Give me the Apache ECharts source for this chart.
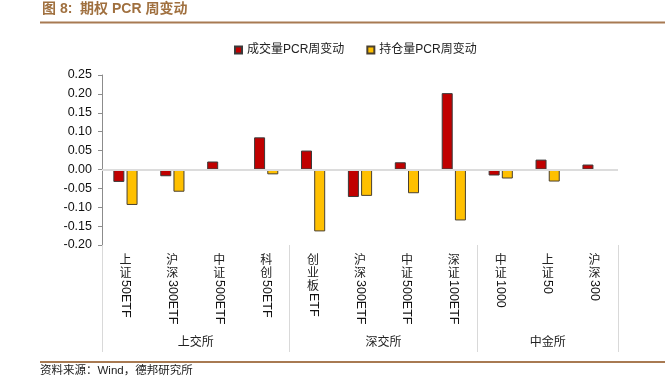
<!DOCTYPE html>
<html>
<head>
<meta charset="utf-8">
<script src="https://cdn.jsdelivr.net/npm/echarts@6/dist/echarts.min.js"></script>
<style>
html,body{margin:0;padding:0;background:#fff;}
#chart{width:667px;height:392px;}
</style>
</head>
<body>
<div id="chart"></div>
<script>
// 品种名称：中文部分竖排，代码部分旋转
const nameCn = ['上证', '沪深', '中证', '科创', '创业板', '沪深', '中证', '深证', '中证', '上证', '沪深'];
const nameEn = ['50ETF', '300ETF', '500ETF', '50ETF', 'ETF', '300ETF', '500ETF', '100ETF', '1000', '50', '300'];
const categories = nameCn.map((c, i) => c + nameEn[i]);

// 交易所分组
const groupNames = ['上交所', '深交所', '中金所'];
const groupSizes = [4, 4, 3];

// 期权PCR周变动
const volPcrChg = [-0.033, -0.018, 0.021, 0.085, 0.050, -0.073, 0.019, 0.202, -0.016, 0.026, 0.013];
const oiPcrChg = [-0.094, -0.059, -0.001, -0.013, -0.164, -0.070, -0.063, -0.135, -0.024, -0.032, -0.001];

// y轴刻度
const yMin = -0.20, yMax = 0.25, yStep = 0.05;

const FONT = "'Liberation Sans','Noto Sans CJK SC',sans-serif";

// 分组边界和中心
let groupEdges = [0], groupCenters = [];
groupSizes.forEach((n, i) => {
    groupCenters.push(groupEdges[i] + n / 2);
    groupEdges.push(groupEdges[i] + n);
});

let chart = echarts.init(document.getElementById('chart'));
option = {
    animation: false,
    color: ['#C00000', '#FFC000'],
    legend: {
        left: 229,
        top: 39,
        icon: 'rect',
        itemWidth: 7,
        itemHeight: 7,
        itemGap: 22,
        textStyle: {fontSize: 12, color: '#222', fontFamily: FONT},
        data: ['成交量PCR周变动', '持仓量PCR周变动']
    },
    grid: {left: 102, right: 49, top: 75, bottom: 147, containLabel: false, outerBoundsMode: 'none'},
    xAxis: [
        {
            // 柱子用的轴，标签为中文竖排
            type: 'category',
            data: categories,
            position: 'bottom',
            axisLine: {show: false, onZero: false},
            axisTick: {show: false},
            axisLabel: {
                interval: 0,
                margin: 9,
                fontSize: 12,
                lineHeight: 13,
                color: '#222',
                fontFamily: FONT,
                formatter: (v, i) => nameCn[i].split('').join('\n')
            }
        },
        {
            // 代码部分，旋转显示
            type: 'category',
            data: categories,
            position: 'bottom',
            axisLine: {show: false, onZero: false},
            axisTick: {show: false},
            axisLabel: {
                interval: 0,
                margin: 9,
                rotate: -90,
                fontSize: 12.5,
                color: '#111',
                fontFamily: FONT,
                formatter: (v, i) => '{s' + nameCn[i].length + '| }{t|' + nameEn[i] + '}',
                rich: {
                    s2: {width: 26},
                    s3: {width: 39},
                    t: {fontSize: 12.5, color: '#111', fontFamily: FONT}
                }
            }
        },
        {
            // 交易所分组和分隔线
            type: 'value',
            min: 0,
            max: categories.length,
            position: 'bottom',
            axisLine: {show: false, onZero: false},
            splitLine: {show: false},
            axisTick: {
                show: true,
                customValues: groupEdges,
                length: 107,
                lineStyle: {color: '#d9d9d9', width: 1}
            },
            axisLabel: {
                customValues: groupCenters,
                margin: 92,
                fontSize: 12,
                color: '#222',
                fontFamily: FONT,
                formatter: v => groupNames[groupCenters.indexOf(v)] || ''
            }
        }
    ],
    yAxis: {
        type: 'value',
        min: yMin,
        max: yMax,
        interval: yStep,
        axisLine: {show: true, lineStyle: {color: '#8c8c8c', width: 1}},
        axisTick: {show: true, length: 4, lineStyle: {color: '#8c8c8c'}},
        splitLine: {show: false},
        axisLabel: {
            margin: 10,
            fontSize: 12.5,
            color: '#111',
            fontFamily: FONT,
            formatter: v => v.toFixed(2)
        }
    },
    series: [
        {
            name: '成交量PCR周变动',
            type: 'bar',
            xAxisIndex: 0,
            data: volPcrChg,
            barWidth: 11,
            barGap: '20%',
            itemStyle: {borderColor: '#3a3a3a', borderWidth: 1},
            markLine: {
                silent: true,
                symbol: 'none',
                label: {show: false},
                lineStyle: {color: '#dcdcdc', width: 2, type: 'solid'},
                data: [{yAxis: 0}]
            }
        },
        {
            name: '持仓量PCR周变动',
            type: 'bar',
            xAxisIndex: 0,
            data: oiPcrChg,
            barWidth: 11,
            barGap: '20%',
            itemStyle: {borderColor: '#4a4030', borderWidth: 1}
        }
    ],
    graphic: [
        {type: 'text', left: 42, top: 2, style: {text: '图 8:  期权 PCR 周变动', fontSize: 14, fontWeight: 'bold', fill: '#A0703F', fontFamily: FONT}},
        {type: 'line', shape: {x1: 40, y1: 22.5, x2: 665, y2: 22.5}, style: {stroke: '#A87A52', lineWidth: 2}},
        {type: 'line', shape: {x1: 40, y1: 362, x2: 665, y2: 362}, style: {stroke: '#A87A52', lineWidth: 2}},
        {type: 'text', left: 40, top: 365, style: {text: '资料来源：Wind，德邦研究所', fontSize: 11.5, fill: '#222', fontFamily: FONT}}
    ]
};
chart.setOption(option);
</script>
</body>
</html>
